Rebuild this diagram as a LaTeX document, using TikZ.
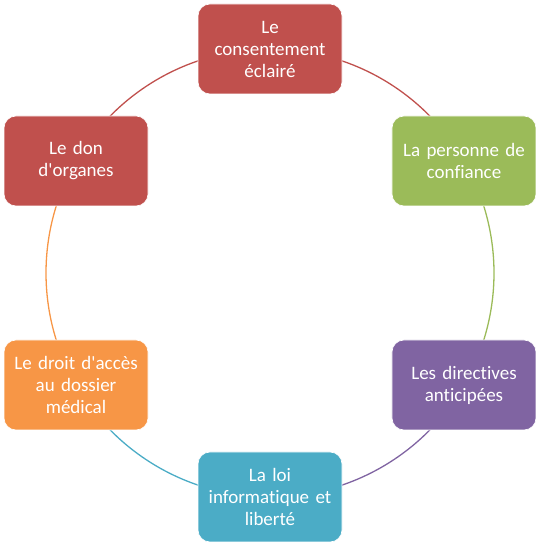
\documentclass[tikz,border=0pt]{standalone}
\usepackage{fontspec}
\setmainfont{Carlito}[Ligatures={TeXOff,NoCommon}]
\usetikzlibrary{calc}
\definecolor{cRed}{HTML}{C0504D}
\definecolor{cGreen}{HTML}{9BBB59}
\definecolor{cPurple}{HTML}{8064A2}
\definecolor{cTeal}{HTML}{4BACC6}
\definecolor{cOrange}{HTML}{F79646}
\begin{document}
\begin{tikzpicture}[x=1pt,y=1pt,
  box/.style={rounded corners=12pt, minimum width=144pt, minimum height=90pt,
    inner sep=2pt, align=center, text=white, draw=white, line width=0.6pt,
    font=\fontsize{19}{22}\selectfont, text width=140pt},
  ring/.style={line width=1.3pt}]
\useasboundingbox (0,0) rectangle (542,546);
\coordinate (c) at (270,273);
\def\R{224}
% ring arcs
\draw[ring,cRed]    ($(c)+(90:\R)$) arc[start angle=90, end angle=30, radius=\R];
\draw[ring,cGreen]  ($(c)+(30:\R)$) arc[start angle=30, end angle=-30, radius=\R];
\draw[ring,cPurple] ($(c)+(-30:\R)$) arc[start angle=-30, end angle=-90, radius=\R];
\draw[ring,cTeal]   ($(c)+(-90:\R)$) arc[start angle=-90, end angle=-150, radius=\R];
\draw[ring,cOrange] ($(c)+(210:\R)$) arc[start angle=210, end angle=150, radius=\R];
\draw[ring,cRed]    ($(c)+(150:\R)$) arc[start angle=150, end angle=90, radius=\R];
% boxes
\node[box,fill=cRed]    (n1) at ($(c)+(90:\R)$)  {Le\\consentement\\éclairé};
\node[box,fill=cGreen]  (n2) at ($(c)+(30:\R)$)  {La personne de\\confiance};
\node[box,fill=cPurple] (n3) at ($(c)+(-30:\R)$) {Les directives\\anticipées};
\node[box,fill=cTeal]   (n4) at ($(c)+(-90:\R)$) {La loi\\informatique et\\liberté};
\node[box,fill=cOrange] (n5) at ($(c)+(210:\R)$) {Le droit d'accès\\au dossier\\médical};
\node[box,fill=cRed]    (n6) at ($(c)+(150:\R)$) {Le don\\d'organes};
\end{tikzpicture}
\end{document}
